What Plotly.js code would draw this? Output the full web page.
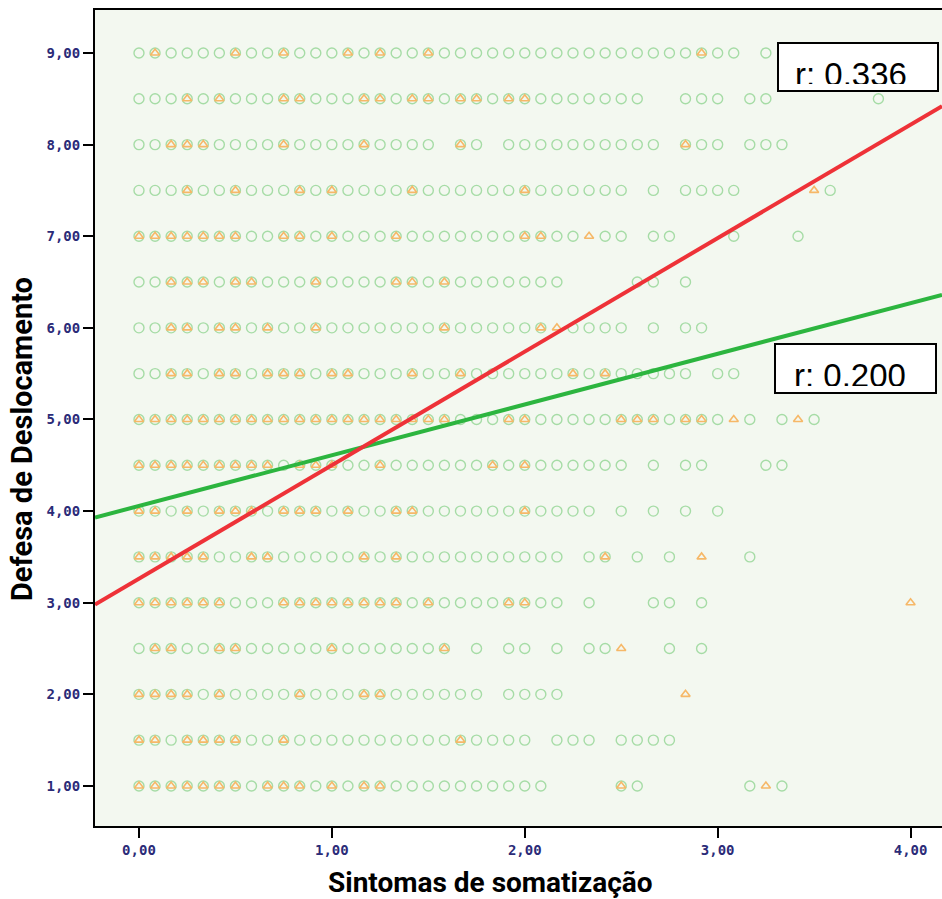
<!DOCTYPE html>
<html><head><meta charset="utf-8">
<script src="https://cdn.plot.ly/plotly-3.0.1.min.js"></script>
<style>html,body{margin:0;padding:0;background:#fff;} #chart{width:942px;height:899px;}</style>
</head><body><div id="chart"></div>
<script>
// Defesa de Deslocamento levels (rows of the scatter)
const defesaLevels = [9, 8.5, 8, 7.5, 7, 6.5, 6, 5.5, 5, 4.5, 4, 3.5, 3, 2.5, 2, 1.5, 1];
// Somatization raw sum scores (12 items, 0-48) per row – group 1 (green circles)
const verdeScores = [
  [0,1,2,3,4,5,6,7,8,9,10,11,12,13,14,15,16,17,18,19,20,21,22,23,24,25,26,27,28,29,30,31,32,33,34,35,36,37,39],
  [0,1,2,3,4,5,6,7,8,9,10,11,12,13,14,15,16,17,18,19,20,21,22,23,24,25,26,27,28,29,30,31,34,35,36,38,39,46],
  [0,1,2,3,4,5,6,7,8,9,10,11,12,13,14,15,16,17,18,20,21,23,24,25,26,27,28,29,30,31,32,34,35,36,38,39,40],
  [0,1,2,3,4,5,6,7,8,9,10,11,12,13,14,15,16,17,18,19,20,21,22,23,24,25,26,27,28,29,30,32,34,35,36,37,43],
  [0,1,2,3,4,5,6,7,8,9,10,11,12,13,14,15,16,17,18,19,20,21,22,23,24,25,26,27,29,30,32,33,37,41],
  [0,1,2,3,4,5,6,7,8,9,10,11,12,13,14,15,16,17,18,19,20,21,22,23,24,25,26,31,32,34],
  [0,1,2,3,4,5,6,7,8,9,10,11,12,13,14,15,16,17,18,19,20,21,22,23,24,25,27,28,29,30,32,34,35],
  [0,1,2,3,4,5,6,7,8,9,10,11,12,13,14,15,16,17,18,19,20,21,22,23,24,25,26,27,28,29,30,31,32,33,34,36,37],
  [0,1,2,3,4,5,6,7,8,9,10,11,12,13,14,15,16,17,18,19,20,21,22,23,24,25,26,27,28,29,30,31,32,33,34,35,36,38,40,42],
  [0,1,2,3,4,5,6,7,8,9,10,11,12,13,14,15,16,17,18,19,20,21,22,23,24,25,26,27,28,29,30,32,34,35,39,40],
  [0,1,2,3,4,5,6,7,8,9,10,11,12,13,14,15,16,17,18,19,20,21,22,23,24,25,26,27,28,30,32,34,36],
  [0,1,2,3,4,5,6,7,8,9,10,11,12,13,14,15,16,17,18,19,20,21,22,23,24,25,26,28,29,31,33,38],
  [0,1,2,3,4,5,6,7,8,9,10,11,12,13,14,15,16,17,18,19,20,21,22,23,24,25,26,28,32,33,35],
  [0,1,2,3,4,5,6,7,8,9,10,11,12,13,14,15,16,17,18,19,21,23,24,26,28,29,33,35],
  [0,1,2,3,4,5,6,7,8,9,10,11,12,13,14,15,16,17,18,19,20,21,23,24,25,26],
  [0,1,2,3,4,5,6,7,8,9,10,11,12,13,14,15,16,17,18,19,20,21,22,23,24,26,27,28,30,31,32,33],
  [0,1,2,3,4,5,6,7,8,9,10,11,12,13,14,15,16,17,18,19,20,21,22,23,24,25,30,31,38,40]
];
// group 2 (orange triangles)
const laranjaScores = [
  [1,6,9,13,15,18,35],
  [3,5,9,10,14,15,17,18,20,21,23,24],
  [2,3,4,9,14,20,34],
  [3,6,10,12,17,24,42],
  [0,1,2,3,4,5,6,9,10,12,16,24,25,28],
  [2,3,4,6,7,11,16,17,19],
  [2,3,5,6,8,11,19,25,26],
  [2,3,5,6,8,9,10,12,13,17,20,27,29],
  [0,1,2,3,4,5,6,7,8,9,10,11,12,13,14,15,16,17,18,19,23,24,30,31,32,34,35,37,41],
  [0,1,2,3,4,5,6,7,8,10,11,12,15,22,24],
  [0,1,3,5,6,7,9,10,11,13,16,17,24],
  [0,1,2,3,4,7,8,14,16,29,35],
  [0,1,2,3,4,5,9,10,11,12,13,14,15,16,18,23,24,48],
  [1,2,5,6,12,19,30],
  [0,1,2,3,5,10,14,15,34],
  [0,1,3,4,5,6,9,20],
  [0,1,2,3,4,5,6,8,9,10,12,14,15,30,39]
];
const itensSomatizacao = 12; // mean score = raw sum / 12
// fit lines (at the plot edges)
const ajusteX = [-0.228, 4.163];
const ajusteLaranjaY = [2.98, 8.42];
const ajusteVerdeY = [3.93, 6.36];
const rotulosR = ['r: 0.336', 'r: 0.200'];
const xTicks = [0, 1, 2, 3, 4];
const yTicks = [1, 2, 3, 4, 5, 6, 7, 8, 9];

function flatten(rows) {
  const xs = [], ys = [];
  rows.forEach((r, i) => r.forEach(s => { xs.push(s / itensSomatizacao); ys.push(defesaLevels[i]); }));
  return {xs, ys};
}
const g = flatten(verdeScores), o = flatten(laranjaScores);

const traces = [
  {x: g.xs, y: g.ys, type: 'scatter', mode: 'markers', hoverinfo: 'skip',
   marker: {symbol: 'circle-open', size: 10, color: '#a6dca6', line: {width: 1.4}}},
  {x: o.xs, y: o.ys, type: 'scatter', mode: 'markers', hoverinfo: 'skip',
   marker: {symbol: 'triangle-up-open', size: 8, color: '#f6b868', line: {width: 1.6}}},
  {x: ajusteX, y: ajusteVerdeY, type: 'scatter', mode: 'lines', line: {color: '#2cb53f', width: 4}},
  {x: ajusteX, y: ajusteLaranjaY, type: 'scatter', mode: 'lines', line: {color: '#ee3238', width: 4}}
];

const L = 95, T = 10, W = 847, H = 816;
const px = v => (v - L) / W, py = v => (T + H - v) / H;

function boxAnn(x0, y0, w, h) {
  return {xref: 'paper', yref: 'paper', x: px(x0), y: py(y0), xanchor: 'left', yanchor: 'top',
    text: ' ', showarrow: false, width: w - 4, height: h - 4, borderwidth: 2, borderpad: 0,
    bordercolor: '#000', bgcolor: '#fff', font: {size: 2}};
}
function coverAnn(x0, y0, w, h) {
  return {xref: 'paper', yref: 'paper', x: px(x0), y: py(y0), xanchor: 'left', yanchor: 'top',
    text: ' ', showarrow: false, width: w, height: h, borderwidth: 0, borderpad: 0,
    bgcolor: '#fff', font: {size: 1}};
}
function textAnn(cx, cy, t) {
  return {xref: 'paper', yref: 'paper', x: px(cx), y: py(cy), xanchor: 'center', yanchor: 'middle',
    text: t, showarrow: false, font: {family: 'Liberation Sans, Arial, sans-serif', size: 33, color: '#000'}};
}

const annotations = [
  boxAnn(777, 42, 162, 50), textAnn(851, 74, rotulosR[0]), coverAnn(780, 84, 156, 6),
  boxAnn(774, 343, 163, 51), textAnn(850, 376, rotulosR[1]), coverAnn(777, 386, 157, 6),
  {xref: 'paper', yref: 'paper', x: px(22), y: py(439), xanchor: 'center', yanchor: 'middle',
   text: '<b>Defesa de Deslocamento</b>', textangle: -90, showarrow: false,
   font: {family: 'Roboto, Arial, sans-serif', size: 29, color: '#000'}},
  {xref: 'paper', yref: 'paper', x: px(490), y: py(882), xanchor: 'center', yanchor: 'middle',
   text: '<b>Sintomas de somatização</b>', showarrow: false,
   font: {family: 'Roboto, Arial, sans-serif', size: 28, color: '#000'}}
];

const tickFont = {family: 'DejaVu Sans Mono, monospace', size: 14, color: '#2b2b78', weight: 'bold'};
const layout = {
  width: 942, height: 899,
  margin: {l: L, r: 0, t: T, b: 899 - T - H, pad: 0},
  paper_bgcolor: '#ffffff', plot_bgcolor: '#f3f8f0',
  showlegend: false, separators: ',.',
  xaxis: {range: [-0.228, 4.163], tickvals: xTicks, tickformat: '.2f', ticks: 'outside', ticklen: 10,
          tickwidth: 2, tickcolor: '#000', showline: true, linecolor: '#000', linewidth: 2, mirror: true,
          showgrid: false, zeroline: false, tickfont: tickFont},
  yaxis: {range: [0.563, 9.469], tickvals: yTicks, tickformat: '.2f', ticks: 'outside', ticklen: 10,
          tickwidth: 2, tickcolor: '#000', showline: true, linecolor: '#000', linewidth: 2,
          showgrid: false, zeroline: false, tickfont: tickFont},
  annotations: annotations
};
Plotly.newPlot('chart', traces, layout, {displayModeBar: false, staticPlot: true});
</script></body></html>
